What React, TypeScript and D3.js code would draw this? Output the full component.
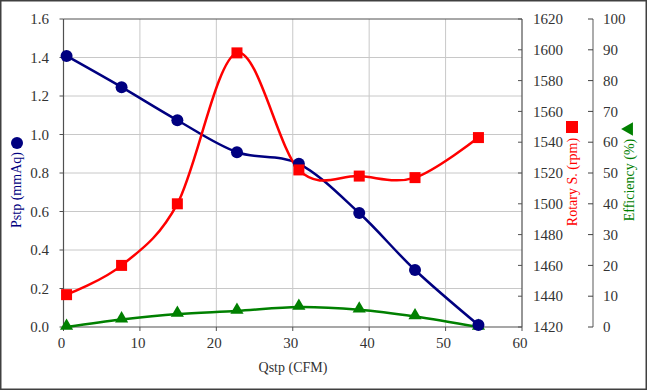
import React from 'react';
import * as d3 from 'd3';

// values
const qstp = [0.4, 7.6, 14.9, 22.7, 30.8, 38.7, 46.0, 54.3];
const pstp = [1.408, 1.246, 1.074, 0.908, 0.848, 0.592, 0.296, 0.01];
const rpm = [1441, 1460, 1500, 1598, 1522, 1518, 1517, 1543];
const eff = [0, 2.4, 4.2, 5.2, 6.5, 5.6, 3.4, 0];

const xTicks = [0, 10, 20, 30, 40, 50, 60];
const pTicks = [0, 0.2, 0.4, 0.6, 0.8, 1.0, 1.2, 1.4, 1.6];
const rTicks = [1420, 1440, 1460, 1480, 1500, 1520, 1540, 1560, 1580, 1600, 1620];
const eTicks = [0, 10, 20, 30, 40, 50, 60, 70, 80, 90, 100];

const W = 647;
const H = 390;
const m = { left: 63.5, right: 522, top: 19, bottom: 327 };
const effAxisX = 593;
const font = '"Liberation Serif", "Times New Roman", serif';
const tickColor = '#333';

const App = () => {
  if (typeof document !== 'undefined') document.body.style.margin = '0';

  const x = d3.scaleLinear().domain([0, 60]).range([m.left, m.right]);
  const yP = d3.scaleLinear().domain([0, 1.6]).range([m.bottom, m.top]);
  const yR = d3.scaleLinear().domain([1420, 1620]).range([m.bottom, m.top]);
  const yE = d3.scaleLinear().domain([0, 100]).range([m.bottom, m.top]);

  const curve = d3.curveCardinal.tension(0);
  const mk = (vals: number[], y: d3.ScaleLinear<number, number>) =>
    d3.line<number>().x((_, i) => x(qstp[i])).y(d => y(d)).curve(curve)(vals) || '';

  const tri = d3.symbol().type(d3.symbolTriangle).size(75)() || '';

  return (
    <svg width={W} height={H} style={{ display: 'block', background: '#fff' }}>
      <rect x={0.75} y={0.75} width={W - 1.5} height={H - 1.5} fill="#fff" stroke="#404040" strokeWidth={1.5} />

      {/* grid */}
      {pTicks.slice(1, -1).map(t => (
        <line key={'hp' + t} x1={m.left} x2={m.right} y1={yP(t)} y2={yP(t)} stroke="#c8c8c8" strokeWidth={1} />
      ))}
      {xTicks.slice(1, -1).map(t => (
        <line key={'vx' + t} x1={x(t)} x2={x(t)} y1={m.top} y2={m.bottom} stroke="#c8c8c8" strokeWidth={1} />
      ))}

      {/* frame */}
      <line x1={m.left} x2={m.right} y1={m.top} y2={m.top} stroke="#505050" strokeWidth={1} />
      <line x1={m.left} x2={m.left} y1={m.top} y2={m.bottom} stroke="#505050" strokeWidth={1.2} />
      <line x1={m.left} x2={m.right} y1={m.bottom} y2={m.bottom} stroke="#505050" strokeWidth={1.2} />
      <line x1={m.right} x2={m.right} y1={m.top} y2={m.bottom} stroke="#505050" strokeWidth={1.2} />

      {/* left axis */}
      {pTicks.map(t => (
        <g key={'lp' + t}>
          <line x1={m.left - 4} x2={m.left} y1={yP(t)} y2={yP(t)} stroke="#505050" />
          <text x={49} y={yP(t)} dy="0.35em" textAnchor="end" fontFamily={font} fontSize={15} fill={tickColor}>
            {d3.format('.1f')(t)}
          </text>
        </g>
      ))}

      {/* bottom axis */}
      {xTicks.map(t => (
        <g key={'bx' + t}>
          <line x1={x(t)} x2={x(t)} y1={m.bottom} y2={m.bottom + 4} stroke="#505050" />
          <text x={x(t) - 2} y={343} dy="0.35em" textAnchor="middle" fontFamily={font} fontSize={15} fill={tickColor}>
            {t}
          </text>
        </g>
      ))}

      {/* rpm axis */}
      {rTicks.map(t => (
        <g key={'rr' + t}>
          <line x1={m.right - 4} x2={m.right} y1={yR(t)} y2={yR(t)} stroke="#505050" />
          <text x={533} y={yR(t)} dy="0.35em" textAnchor="start" fontFamily={font} fontSize={15} fill={tickColor}>
            {t}
          </text>
        </g>
      ))}

      {/* efficiency axis */}
      <line x1={effAxisX} x2={effAxisX} y1={m.top} y2={m.bottom} stroke="#909090" strokeWidth={1.5} />
      {eTicks.map(t => (
        <g key={'ee' + t}>
          <line x1={effAxisX - 5} x2={effAxisX} y1={yE(t)} y2={yE(t)} stroke="#404040" />
          <text x={603} y={yE(t)} dy="0.35em" textAnchor="start" fontFamily={font} fontSize={15} fill={tickColor}>
            {t}
          </text>
        </g>
      ))}

      {/* series */}
      <path d={mk(eff, yE)} fill="none" stroke="#008000" strokeWidth={2.5} />
      <path d={mk(pstp, yP)} fill="none" stroke="#000080" strokeWidth={2.5} />
      <path d={mk(rpm, yR)} fill="none" stroke="#ff0000" strokeWidth={2.5} />

      {eff.map((v, i) => (
        <path key={'te' + i} d={tri} transform={`translate(${x(qstp[i])},${yE(v) - 1})`} fill="#008000" />
      ))}
      {pstp.map((v, i) => (
        <circle key={'cp' + i} cx={x(qstp[i])} cy={yP(v)} r={6} fill="#000080" />
      ))}
      {rpm.map((v, i) => (
        <rect key={'sr' + i} x={x(qstp[i]) - 5.5} y={yR(v) - 5.5} width={11} height={11} fill="#ff0000" />
      ))}

      {/* axis titles */}
      <circle cx={17} cy={143} r={6} fill="#000080" />
      <text transform="translate(21,190) rotate(-90)" textAnchor="middle" fontFamily={font} fontSize={14} fill="#000080">
        Pstp (mmAq)
      </text>

      <rect x={566} y={121} width={12} height={12} fill="#ff0000" />
      <text transform="translate(577,182) rotate(-90)" textAnchor="middle" fontFamily={font} fontSize={14} fill="#ff0000">
        Rotary S. (rpm)
      </text>

      <path d={d3.symbol().type(d3.symbolTriangle).size(80)() || ''} transform="translate(629,129) rotate(-90)" fill="#008000" />
      <text transform="translate(634,180) rotate(-90)" textAnchor="middle" fontFamily={font} fontSize={14} fill="#008000">
        Efficiency (%)
      </text>

      <text x={293} y={367} dy="0.35em" textAnchor="middle" fontFamily={font} fontSize={14} fill={tickColor}>
        Qstp (CFM)
      </text>
    </svg>
  );
};

export default App;
